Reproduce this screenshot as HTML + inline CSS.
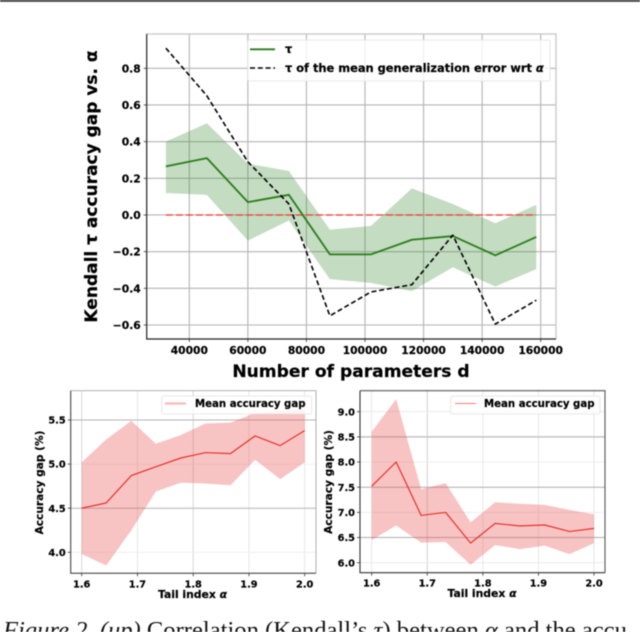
<!DOCTYPE html>
<html>
<head>
<meta charset="utf-8">
<style>
html,body{margin:0;padding:0;background:#fff;width:640px;height:632px;overflow:hidden}
svg{display:block;filter:blur(0.45px)}
text{font-family:"DejaVu Sans","Liberation Sans",sans-serif;font-weight:bold;fill:#000;stroke:#000;stroke-width:0.2px}
text.caption{font-family:"Liberation Serif","DejaVu Serif",serif;font-weight:normal;font-size:24.6px;fill:#111;stroke:none}
</style>
</head>
<body>
<svg id="figure" xmlns="http://www.w3.org/2000/svg" width="640" height="632" viewBox="0 0 640 632">
<rect x="0" y="0" width="640" height="1.8" fill="#333"/>
<text class="caption" x="3" y="638"><tspan font-style="italic">Figure 2. (up)</tspan> Correlation (Kendall’s <tspan font-style="italic">τ</tspan>) between <tspan font-style="italic">α</tspan> and the accu</text>
</svg>
<script>
// Top chart data
const paramCounts = [32000, 46000, 60000, 74000, 88000, 102000, 116000, 130000, 144500, 158500];
const tauMean = [0.265, 0.31, 0.07, 0.11, -0.215, -0.215, -0.135, -0.115, -0.22, -0.12];
const tauUpper = [0.40, 0.50, 0.28, 0.24, -0.08, -0.06, 0.145, 0.06, -0.045, 0.055];
const tauLower = [0.12, 0.11, -0.14, -0.03, -0.35, -0.37, -0.415, -0.285, -0.39, -0.295];
const tauGenError = [0.91, 0.65, 0.29, 0.06, -0.55, -0.42, -0.38, -0.11, -0.595, -0.465];
const zeroLine = [0, 0, 0, 0, 0, 0, 0, 0, 0, 0];
const paramTicks = [40000, 60000, 80000, 100000, 120000, 140000, 160000];
const tauTicks = [0.8, 0.6, 0.4, 0.2, 0.0, -0.2, -0.4, -0.6];

// Shared tail index values
const tailIndex = [1.6, 1.644, 1.689, 1.733, 1.778, 1.822, 1.867, 1.911, 1.956, 2.0];
const tailTicks = [1.6, 1.7, 1.8, 1.9, 2.0];

// Bottom-left chart data
const leftMean = [4.5, 4.56, 4.87, 4.97, 5.07, 5.13, 5.12, 5.32, 5.21, 5.38];
const leftUpper = [5.02, 5.28, 5.49, 5.23, 5.33, 5.46, 5.47, 5.58, 5.6, 5.62];
const leftLower = [3.98, 3.85, 4.25, 4.69, 4.79, 4.78, 4.76, 5.05, 4.83, 5.02];
const leftTicks = [4.0, 4.5, 5.0, 5.5];

// Bottom-right chart data
const rightMean = [7.52, 8.0, 6.94, 7.0, 6.39, 6.78, 6.73, 6.75, 6.62, 6.68];
const rightUpper = [8.6, 9.25, 7.46, 7.58, 6.8, 7.2, 7.17, 7.15, 7.05, 6.96];
const rightLower = [6.45, 6.74, 6.4, 6.41, 5.96, 6.35, 6.27, 6.34, 6.17, 6.39];
const rightTicks = [6.0, 6.5, 7.0, 7.5, 8.0, 8.5, 9.0];

const NS = 'http://www.w3.org/2000/svg';
const root = document.getElementById('figure');

function make(tag, attrs, parent) {
  const node = document.createElementNS(NS, tag);
  for (const k in attrs) node.setAttribute(k, attrs[k]);
  parent.appendChild(node);
  return node;
}
function linScale(v0, p0, v1, p1) {
  return v => p0 + (v - v0) * (p1 - p0) / (v1 - v0);
}
function pts(xs, ys, X, Y) {
  return xs.map((x, i) => X(x).toFixed(2) + ',' + Y(ys[i]).toFixed(2));
}
function fmt(v) {
  return v.toFixed(1).replace('-', '\u2212');
}

function drawFrame(g, c, X, Y) {
  const L = c.box[0], T = c.box[1], R = c.box[2], B = c.box[3];
  c.xTicks.forEach((t, i) => {
    const grid = make('line', {x1: X(t), x2: X(t), y1: T, y2: B, stroke: c.gridX(i), 'stroke-width': c.gridW}, g);
    
    
    const tick = make('line', {x1: X(t), x2: X(t), y1: B, y2: B + 3, stroke: '#333', 'stroke-width': 0.8}, g);
    
    
    const lab = make('text', {x: X(t), y: B + c.xLabOff, 'text-anchor': 'middle', 'font-size': c.tickSize}, g);
    
    
    lab.textContent = c.xFmt(t);
  });
  c.yTicks.forEach((t, i) => {
    const grid = make('line', {x1: L, x2: R, y1: Y(t), y2: Y(t), stroke: c.gridY(i), 'stroke-width': c.gridYW ? c.gridYW(i) : c.gridW}, g);
    
    
    const tick = make('line', {x1: L - 3, x2: L, y1: Y(t), y2: Y(t), stroke: '#333', 'stroke-width': 0.8}, g);
    
    
    const lab = make('text', {x: L - c.yLabOff, y: Y(t) + c.tickSize * 0.37, 'text-anchor': 'end', 'font-size': c.tickSize}, g);
    
    
    lab.textContent = fmt(t);
  });
}
function drawSpines(g, c) {
  const L = c.box[0], T = c.box[1], R = c.box[2], B = c.box[3];
  const top = make('path', {d: `M${L} ${T}H${R}V${B}`, fill: 'none', stroke: c.spineFar, 'stroke-width': c.spineFarW}, g);
  
  
  const near = make('path', {d: `M${L} ${T}V${B}H${R}`, fill: 'none', stroke: c.spineNear, 'stroke-width': c.spineNearW}, g);
  
  
}
function drawBand(g, xs, up, lo, X, Y, fill, name) {
  const p = pts(xs, up, X, Y).concat(pts(xs, lo, X, Y).reverse()).join(' ');
  const band = make('polygon', {points: p, fill: fill, stroke: 'none'}, g);
  
  
}
function drawLine(g, xs, ys, X, Y, stroke, w, dash, name) {
  const line = make('polyline', {points: pts(xs, ys, X, Y).join(' '), fill: 'none', stroke: stroke, 'stroke-width': w, 'stroke-linejoin': 'round'}, g);
  if (dash) line.setAttribute('stroke-dasharray', dash);
  
  
}
function legendBox(g, x, y, w, h) {
  const box = make('rect', {x: x, y: y, width: w, height: h, rx: 2, fill: 'rgba(255,255,255,0.8)', stroke: '#e2e2e2', 'stroke-width': 0.8}, g);
  
  
}

/* ---------- Top chart ---------- */
const topG = make('g', {}, root);


const topCfg = {
  box: [146.7, 34, 556, 339], xTicks: paramTicks, yTicks: tauTicks,
  gridX: () => '#b4b4b4', gridY: () => '#b4b4b4', gridW: 1.1,
  xFmt: v => String(v), tickSize: 10.7, xLabOff: 15, yLabOff: 6,
  spineFar: '#c4c4c4', spineFarW: 1.2, spineNear: '#222', spineNearW: 1.2
};
const topX = linScale(40000, 189.3, 160000, 540.7);
const topY = linScale(0.8, 68.3, -0.6, 325);
drawFrame(topG, topCfg, topX, topY);
drawBand(topG, paramCounts, tauUpper, tauLower, topX, topY, 'rgba(60,140,50,0.3)', 'tau-confidence-band');
drawLine(topG, paramCounts, zeroLine, topX, topY, '#ff3528', 1.3, '7 3', 'zero-reference-line');
drawLine(topG, paramCounts, tauMean, topX, topY, '#2a7d1c', 1.8, null, 'tau-mean-line');
drawLine(topG, paramCounts, tauGenError, topX, topY, '#000', 1.6, '5 2.8', 'tau-generalization-error-line');
drawSpines(topG, topCfg);

const topXTitle = make('text', {x: 351, y: 377, 'text-anchor': 'middle', 'font-size': 17.1}, topG);


topXTitle.textContent = 'Number of parameters d';
const topYTitle = make('text', {x: 0, y: 0, 'text-anchor': 'middle', 'font-size': 17, transform: 'translate(97,186.5) rotate(-90)'}, topG);


topYTitle.textContent = 'Kendall τ accuracy gap vs. α';

legendBox(topG, 247.7, 40, 302.3, 41);
const lg1 = make('line', {x1: 250, x2: 275, y1: 49.3, y2: 49.3, stroke: '#2a7d1c', 'stroke-width': 1.8}, topG);


const lt1 = make('text', {x: 285, y: 53, 'font-size': 11.4}, topG);


lt1.textContent = 'τ';
const lg2 = make('line', {x1: 250, x2: 275, y1: 68, y2: 68, stroke: '#000', 'stroke-width': 1.6, 'stroke-dasharray': '5 2.8'}, topG);


const lt2 = make('text', {x: 285, y: 72, 'font-size': 11.4}, topG);


lt2.innerHTML = 'τ of the mean generalization error wrt <tspan font-style="italic">α</tspan>';

/* ---------- Bottom-left chart ---------- */
const leftG = make('g', {}, root);


const leftCfg = {
  box: [70.7, 390.7, 316, 573.3], xTicks: tailTicks, yTicks: leftTicks,
  gridX: i => i === 0 || i === 2 ? '#d2d2d2' : '#e4e4e4',
  gridY: i => i % 2 ? '#b4b4b4' : '#eeeeee', gridW: 0.9,
  gridYW: i => i % 2 ? 1 : 0.8,
  xFmt: v => v.toFixed(1), tickSize: 9.8, xLabOff: 14, yLabOff: 5,
  spineFar: '#a8a8a8', spineFarW: 0.9, spineNear: '#333', spineNearW: 1
};
const leftX = linScale(1.6, 81.7, 2.0, 304.7);
const leftY = linScale(5.5, 420, 4.0, 552.3);
drawFrame(leftG, leftCfg, leftX, leftY);
drawBand(leftG, tailIndex, leftUpper, leftLower, leftX, leftY, 'rgba(232,90,90,0.36)', 'left-accuracy-band');
drawLine(leftG, tailIndex, leftMean, leftX, leftY, '#e8261c', 1.1, null, 'left-mean-line');
drawSpines(leftG, leftCfg);
const leftXTitle = make('text', {x: 192.5, y: 598, 'text-anchor': 'middle', 'font-size': 10.8}, leftG);


leftXTitle.innerHTML = 'Tail index <tspan font-style="italic">α</tspan>';
const leftYTitle = make('text', {x: 0, y: 0, 'text-anchor': 'middle', 'font-size': 10.6, transform: 'translate(43,482.5) rotate(-90)'}, leftG);


leftYTitle.textContent = 'Accuracy gap (%)';
legendBox(leftG, 161.7, 396, 150, 18);
const lg3 = make('line', {x1: 165, x2: 186, y1: 403.5, y2: 403.5, stroke: '#f6bcbc', 'stroke-width': 2.2}, leftG);


const lt3 = make('text', {x: 195, y: 407, 'font-size': 10.2}, leftG);


lt3.textContent = 'Mean accuracy gap';

/* ---------- Bottom-right chart ---------- */
const rightG = make('g', {}, root);


const rightCfg = {
  box: [360, 390.7, 605, 572.7], xTicks: tailTicks, yTicks: rightTicks,
  gridX: i => i === 1 ? '#cccccc' : '#e4e4e4',
  gridY: i => i === 5 ? '#c4c4c4' : (i % 2 ? '#adadad' : '#e8e8e8'), gridW: 0.9,
  gridYW: i => i === 5 ? 1.5 : (i % 2 ? 1 : 0.8),
  xFmt: v => v.toFixed(1), tickSize: 9.8, xLabOff: 14, yLabOff: 5,
  spineFar: '#555', spineFarW: 1.1, spineNear: '#333', spineNearW: 1.1
};
const rightX = linScale(1.6, 371.7, 2.0, 594);
const rightY = linScale(9.0, 411.7, 6.0, 562.7);
drawFrame(rightG, rightCfg, rightX, rightY);
drawBand(rightG, tailIndex, rightUpper, rightLower, rightX, rightY, 'rgba(232,90,90,0.36)', 'right-accuracy-band');
drawLine(rightG, tailIndex, rightMean, rightX, rightY, '#e8261c', 1.1, null, 'right-mean-line');
drawSpines(rightG, rightCfg);
const rightXTitle = make('text', {x: 482, y: 597, 'text-anchor': 'middle', 'font-size': 10.8}, rightG);


rightXTitle.innerHTML = 'Tail index <tspan font-style="italic">α</tspan>';
const rightYTitle = make('text', {x: 0, y: 0, 'text-anchor': 'middle', 'font-size': 10.6, transform: 'translate(332,482) rotate(-90)'}, rightG);


rightYTitle.textContent = 'Accuracy gap (%)';
legendBox(rightG, 450.7, 396, 149.3, 18);
const lg4 = make('line', {x1: 455, x2: 476, y1: 403.5, y2: 403.5, stroke: '#f77a72', 'stroke-width': 1}, rightG);


const lt4 = make('text', {x: 484, y: 407, 'font-size': 10.2}, rightG);


lt4.textContent = 'Mean accuracy gap';
</script>
</body>
</html>
